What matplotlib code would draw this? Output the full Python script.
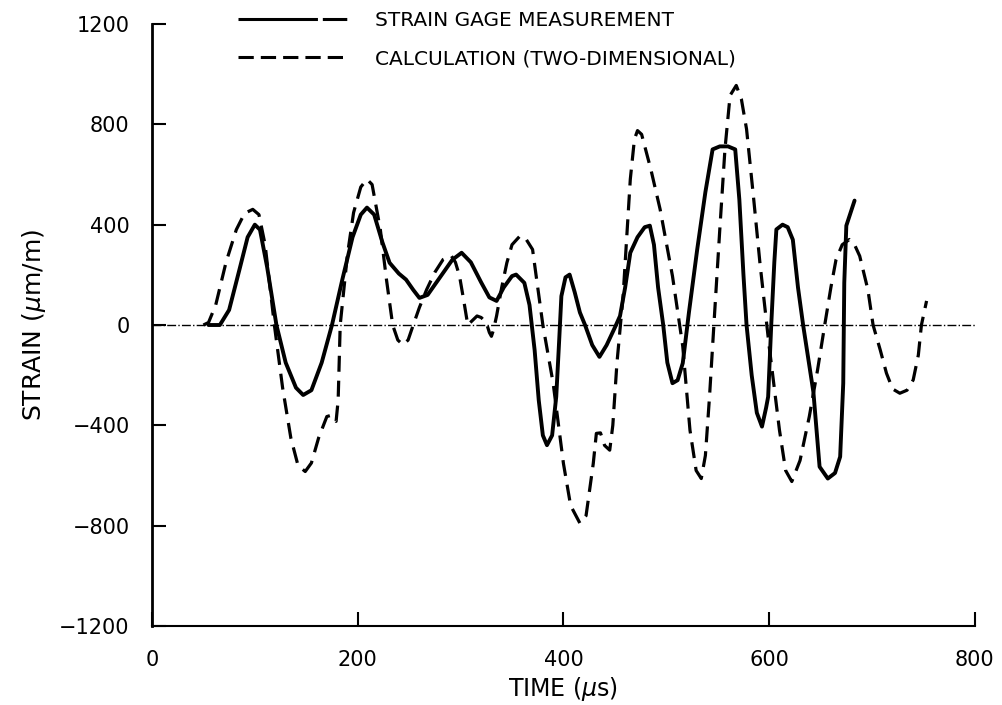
import numpy as np
import matplotlib
matplotlib.use('Agg')
import matplotlib.pyplot as plt
from matplotlib.lines import Line2D

# strain gage measurement (solid), time in us, strain in um/m
t_meas = [55, 66, 75, 85, 93, 100, 105, 112, 121, 130, 140, 147, 155, 165, 175, 185, 195, 203,
          209, 216, 224, 231, 240, 247, 254, 260, 268, 280, 292, 301, 310, 320, 328, 335, 342,
          350, 354, 362, 367, 372, 376, 380, 384, 389, 393, 396, 398, 402, 406, 411, 416, 421,
          428, 435, 442, 450, 455, 460, 465, 472, 479, 484, 488, 492, 497, 501, 506, 511, 516,
          522, 530, 538, 545, 552, 560, 567, 571, 575, 578, 583, 588, 593, 597, 599, 602, 605,
          607, 613, 618, 623, 628, 633, 643, 649, 657, 664, 669, 672, 673, 675, 683]
s_meas = [0, 0, 60, 220, 350, 400, 380, 230, 0, -150, -250, -279, -260, -150, 0, 180, 350, 440,
          468, 440, 330, 248, 205, 181, 140, 108, 120, 190, 260, 288, 250, 170, 110, 96, 150,
          195, 201, 168, 80, -100, -300, -440, -479, -440, -286, -50, 115, 190, 201, 130, 50, 0,
          -80, -127, -80, -10, 36, 150, 288, 350, 390, 396, 320, 150, 0, -150, -232, -220, -152,
          50, 300, 530, 700, 712, 712, 700, 500, 200, 0, -200, -350, -405, -330, -286, 0, 250,
          381, 400, 390, 340, 150, 0, -268, -565, -612, -590, -525, -232, 168, 396, 496]

# two-dimensional calculation (dashed)
t_calc = [50, 55, 62, 72, 82, 90, 98, 104, 110, 119, 127, 135, 142, 149, 155, 162, 170, 174, 179,
          181, 183, 190, 196, 203, 209, 214, 222, 228, 234, 239, 244, 249, 254, 260, 267, 275,
          283, 291, 295, 299, 303, 307, 312, 316, 320, 325, 328, 330, 332, 335, 340, 345, 350,
          358, 364, 370, 375, 380, 390, 400, 407, 416, 422, 429, 432, 436, 440, 445, 448, 452,
          458, 465, 469, 472, 476, 485, 494, 506, 516, 523, 529, 534, 538, 542, 547, 552, 557,
          562, 568, 573, 578, 585, 591, 600, 610, 616, 622, 630, 639, 647, 654, 660, 665, 671,
          678, 683, 688, 696, 701, 708, 714, 720, 727, 734, 740, 745, 748, 753]
s_calc = [0, 10, 80, 250, 380, 445, 461, 440, 320, 0, -250, -450, -560, -584, -550, -450, -365,
          -360, -384, -300, 0, 280, 448, 550, 581, 560, 381, 180, 0, -60, -79, -60, 0, 70, 141,
          210, 261, 276, 250, 195, 100, 0, 20, 36, 30, 10, -30, -45, -20, 36, 150, 248, 320, 356,
          340, 301, 150, 0, -232, -552, -720, -790, -760, -552, -432, -430, -480, -499, -400,
          -152, 115, 581, 740, 775, 760, 620, 461, 195, -85, -419, -580, -612, -520, -286, 50,
          381, 700, 915, 955, 900, 781, 500, 248, -85, -419, -580, -624, -540, -365, -180, 0, 150,
          261, 320, 341, 320, 275, 140, 0, -100, -192, -255, -272, -260, -219, -120, 0, 96]

xticks = [0, 200, 400, 600, 800]
yticks = [-1200, -800, -400, 0, 400, 800, 1200]
legend_labels = ['STRAIN GAGE MEASUREMENT', 'CALCULATION (TWO-DIMENSIONAL)']

plt.rcParams['font.family'] = 'DejaVu Sans'
fig = plt.figure(figsize=(10.03, 7.05), dpi=100)
ax = fig.add_axes([0.1515, 0.112, 0.8205, 0.854])

ax.axhline(0, color='k', lw=1.0, ls='-.', zorder=1)
ax.plot(t_meas, s_meas, color='k', lw=2.8, solid_capstyle='round', solid_joinstyle='round')
ax.plot(t_calc, s_calc, color='k', lw=2.3, dashes=(5, 2.8))

ax.set_xlim(0, 800)
ax.set_ylim(-1200, 1200)
ax.set_xticks(xticks)
ax.set_yticks(yticks)
ax.set_xticklabels([str(v) for v in xticks], fontsize=15)
ax.set_yticklabels([str(v).replace('-', '\u2212') for v in yticks], fontsize=15)
ax.tick_params(direction='in', length=10, width=1.5, pad=16)
ax.tick_params(axis='x', pad=17)
ax.spines['top'].set_visible(False)
ax.spines['right'].set_visible(False)
ax.spines['left'].set_linewidth(2)
ax.spines['bottom'].set_linewidth(1.5)
ax.set_xlabel('TIME ($\\mu$s)', fontsize=17, labelpad=4)
ax.set_ylabel('STRAIN ($\\mu$m/m)', fontsize=18, labelpad=8)

handles = [Line2D([], [], color='k', lw=2.2, dashes=(26, 1.6, 8, 100)),
           Line2D([], [], color='k', lw=2.2, dashes=(5, 2.3))]
ax.legend(handles, legend_labels,
          loc='upper left', bbox_to_anchor=(0.1045, 1.022), frameon=False, fontsize=14.5,
          borderpad=0, borderaxespad=0, handlelength=5.4, handletextpad=1.4,
          labelspacing=0.98)

plt.savefig('out.png', dpi=100)
